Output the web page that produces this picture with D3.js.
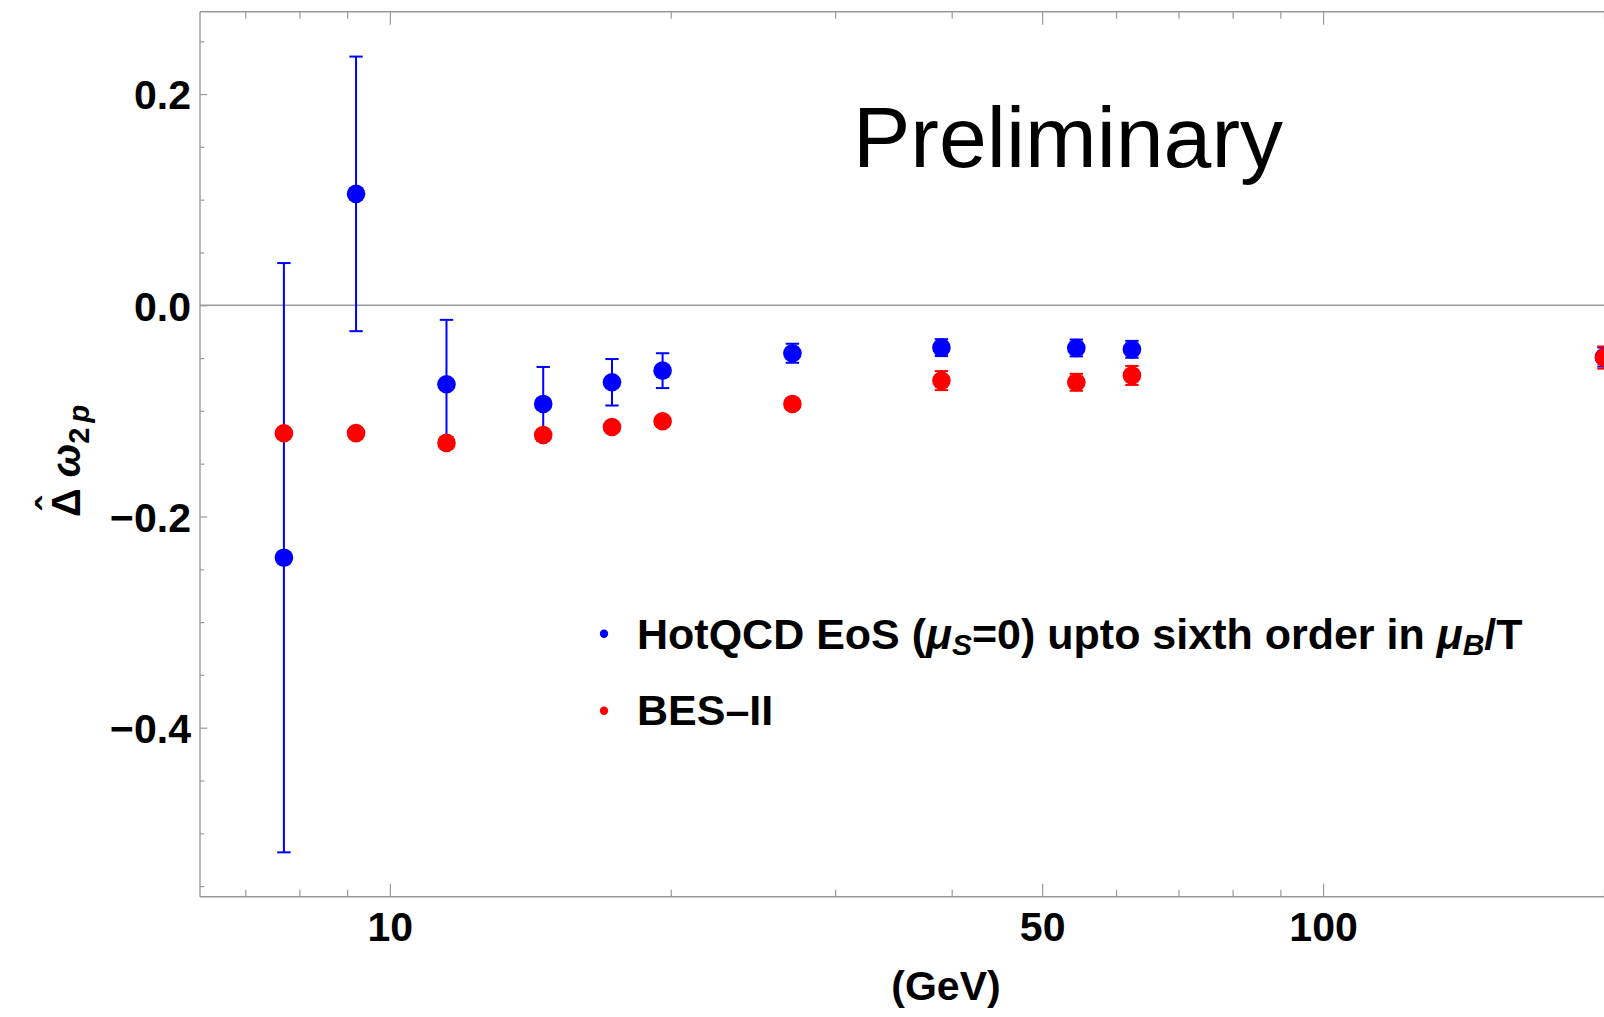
<!DOCTYPE html>
<html>
<head>
<meta charset="utf-8">
<script src="https://cdn.jsdelivr.net/npm/d3@7"></script>
<style>
  html, body { margin: 0; padding: 0; background: #fff; }
  svg { display: block; }
  text { font-family: "Liberation Sans", Arial, Helvetica, sans-serif; }
</style>
</head>
<body>
<svg id="chart" width="1604" height="1017"></svg>
<script>
// ---- data ----
const energies   = [7.7, 9.2, 11.5, 14.6, 17.3, 19.6, 27, 39, 54.4, 62.4, 200];
const hotqcd     = [-0.2390, 0.1055, -0.0748, -0.0934, -0.0729, -0.0619, -0.0454, -0.0401, -0.0404, -0.0417, -0.0490];
const hotqcdErr  = [0.2790, 0.1300, 0.0610, 0.0350, 0.0220, 0.0165, 0.0090, 0.0080, 0.0080, 0.0080, 0.0090];
const bes2       = [-0.1212, -0.1210, -0.1303, -0.1228, -0.1152, -0.1098, -0.0934, -0.0713, -0.0729, -0.0664, -0.0495];
const bes2Err    = [0.0030, 0.0030, 0.0040, 0.0040, 0.0040, 0.0040, 0.0050, 0.0090, 0.0080, 0.0090, 0.0105];
const xTickLabels = [10, 50, 100];
const xMinorTicks = [7, 8, 9, 20, 30, 40, 60, 70, 80, 90, 200];
const yTickLabels = [-0.4, -0.2, 0.0, 0.2];
const yMinorTicks = [-0.55, -0.5, -0.45, -0.35, -0.3, -0.25, -0.15, -0.1, -0.05, 0.05, 0.1, 0.15, 0.25];
const seriesNames = ["HotQCD", "BES–II"];
const seriesColors = ["#0000ff", "#ff0000"];

(function () {
// ---- layout ----
const pL = 200, pR = 1604, pT = 11.7, pB = 896.7;
const frameColor = "#9a9a9a";

const svg = d3.select("#chart");
const x = d3.scaleLog().domain([6.26, 200]).range([pL, pR]);
const y = d3.scaleLinear().domain([-0.56, 0.278]).range([pB, pT]);

// frame
svg.append("line").attr("x1", pL).attr("x2", pR).attr("y1", pB).attr("y2", pB)
  .attr("stroke", frameColor).attr("stroke-width", 1.4);
svg.append("line").attr("x1", pL).attr("x2", pR).attr("y1", pT).attr("y2", pT)
  .attr("stroke", frameColor).attr("stroke-width", 1.4);
svg.append("line").attr("x1", pL).attr("x2", pL).attr("y1", pT).attr("y2", pB)
  .attr("stroke", frameColor).attr("stroke-width", 1.4);

// zero line
svg.append("line").attr("x1", pL).attr("x2", pR).attr("y1", y(0)).attr("y2", y(0))
  .attr("stroke", frameColor).attr("stroke-width", 1.4);

function styleAxis(g) {
  g.select(".domain").remove();
  g.selectAll(".tick line").attr("stroke", frameColor).attr("stroke-width", 1.2);
  g.selectAll("text").attr("fill", "#000").attr("font-weight", "bold")
    .attr("font-family", "Liberation Sans, Arial, sans-serif").attr("font-size", 41);
}

// x axis bottom (ticks inward)
svg.append("g").attr("transform", `translate(0,${pB})`)
  .call(d3.axisBottom(x).tickValues(xTickLabels).tickFormat(d3.format("d")).tickSizeInner(-13).tickSizeOuter(0).tickPadding(15))
  .call(styleAxis);
svg.append("g").attr("transform", `translate(0,${pB})`)
  .call(d3.axisBottom(x).tickValues(xMinorTicks).tickFormat("").tickSizeInner(-7).tickSizeOuter(0))
  .call(styleAxis);
// x axis top (ticks inward)
svg.append("g").attr("transform", `translate(0,${pT})`)
  .call(d3.axisTop(x).tickValues(xTickLabels).tickFormat("").tickSizeInner(-13).tickSizeOuter(0))
  .call(styleAxis);
svg.append("g").attr("transform", `translate(0,${pT})`)
  .call(d3.axisTop(x).tickValues(xMinorTicks).tickFormat("").tickSizeInner(-7).tickSizeOuter(0))
  .call(styleAxis);

// y axis left
const yAx = svg.append("g").attr("transform", `translate(${pL},0)`)
  .call(d3.axisLeft(y).tickValues(yTickLabels).tickFormat(d3.format(".1f")).tickSizeInner(-7.3).tickSizeOuter(0).tickPadding(9))
  .call(styleAxis);
yAx.selectAll("text").attr("dy", "0.36em");
svg.append("g").attr("transform", `translate(${pL},0)`)
  .call(d3.axisLeft(y).tickValues(yMinorTicks).tickFormat("").tickSizeInner(-4.3).tickSizeOuter(0))
  .call(styleAxis);

// series
function drawSeries(vals, errs, color) {
  const g = svg.append("g");
  const capW = 6.7;
  energies.forEach((e, i) => {
    const cx = x(e), lo = y(vals[i] - errs[i]), hi = y(vals[i] + errs[i]);
    g.append("line").attr("x1", cx).attr("x2", cx).attr("y1", lo).attr("y2", hi)
      .attr("stroke", color).attr("stroke-width", 2);
    [lo, hi].forEach(yy => g.append("line").attr("x1", cx - capW).attr("x2", cx + capW)
      .attr("y1", yy).attr("y2", yy).attr("stroke", color).attr("stroke-width", 2));
  });
  g.selectAll("circle").data(energies).join("circle")
    .attr("cx", d => x(d)).attr("cy", (d, i) => y(vals[i])).attr("r", 9.3).attr("fill", color);
}
drawSeries(hotqcd, hotqcdErr, seriesColors[0]);
drawSeries(bes2, bes2Err, seriesColors[1]);

// Preliminary
svg.append("text").attr("x", 853).attr("y", 166.7).attr("font-size", 86)
  .attr("fill", "#000").text("Preliminary");

// legend
const leg = svg.append("g");
leg.append("circle").attr("cx", 604).attr("cy", 633.7).attr("r", 4.2).attr("fill", seriesColors[0]);
leg.append("circle").attr("cx", 604).attr("cy", 710.7).attr("r", 4.2).attr("fill", seriesColors[1]);
const t1 = leg.append("text").attr("x", 637).attr("y", 649.3).attr("font-size", 43)
  .attr("font-weight", "bold").attr("fill", "#000");
t1.append("tspan").text("HotQCD EoS (");
t1.append("tspan").attr("font-style", "italic").text("μ");
t1.append("tspan").attr("font-style", "italic").attr("font-size", 30).attr("dy", 6).text("S");
t1.append("tspan").attr("dy", -6).text("=0) upto sixth order in ");
t1.append("tspan").attr("font-style", "italic").text("μ");
t1.append("tspan").attr("font-style", "italic").attr("font-size", 30).attr("dy", 6).text("B");
t1.append("tspan").attr("dy", -6).text("/T");
leg.append("text").attr("x", 637).attr("y", 725).attr("font-size", 43)
  .attr("font-weight", "bold").attr("fill", "#000").text(seriesNames[1]);

// x axis title
svg.append("text").attr("x", 946).attr("y", 999.5).attr("text-anchor", "middle")
  .attr("font-size", 41).attr("font-weight", "bold").attr("fill", "#000").text("(GeV)");

// y axis title
const yl = svg.append("g").attr("transform", "translate(80,517) rotate(-90)");
yl.append("text").attr("x", 13.5).attr("y", -14).attr("text-anchor", "middle")
  .attr("font-size", 40).attr("font-weight", "bold").attr("fill", "#000").text("ˆ");
const yt = yl.append("text").attr("x", 0).attr("y", 0).attr("font-size", 40)
  .attr("font-weight", "bold").attr("fill", "#000");
yt.append("tspan").text("Δ ");
yt.append("tspan").attr("font-style", "italic").text("ω");
yt.append("tspan").attr("font-size", 29).attr("dy", 9).text("2");
yt.append("tspan").attr("font-size", 29).attr("font-style", "italic").attr("dx", 5).text("p");
})();
</script>
</body>
</html>
